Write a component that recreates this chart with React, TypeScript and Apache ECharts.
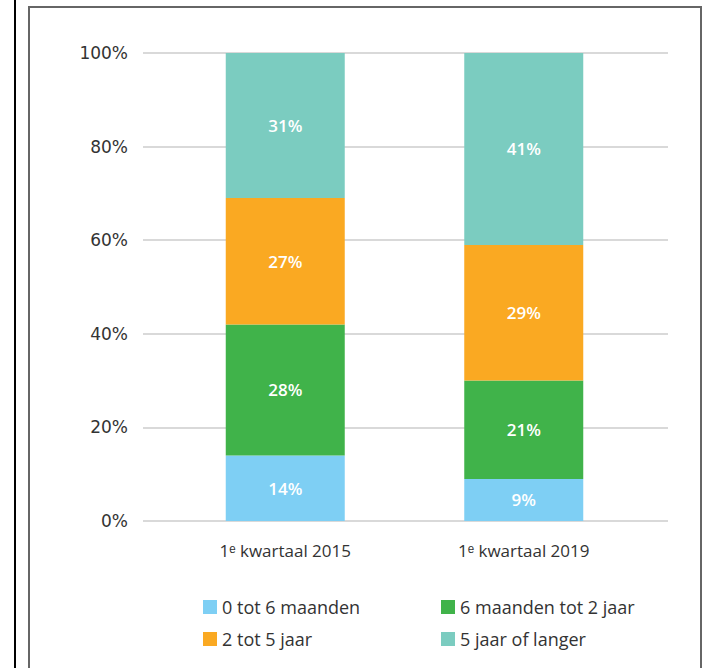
import React, { useEffect, useRef } from "react";
import * as echarts from "echarts";

const categories = ["1ᵉ kwartaal 2015", "1ᵉ kwartaal 2019"];
const seriesNames = ["0 tot 6 maanden", "6 maanden tot 2 jaar", "2 tot 5 jaar", "5 jaar of langer"];
const values0to6m = [14, 9];
const values6mto2y = [28, 21];
const values2to5y = [27, 29];
const values5yPlus = [31, 41];
const colors = ["#7ECFF4", "#40B34A", "#FAA922", "#7BCCC0"];

export default function App() {
  const ref = useRef<HTMLDivElement>(null);
  useEffect(() => {
    if (!ref.current) return;
    const chart = echarts.init(ref.current, null, { renderer: "svg" });
    const font = "'Open Sans', sans-serif";
    const data = [values0to6m, values6mto2y, values2to5y, values5yPlus];
    chart.setOption({
      animation: false,
      backgroundColor: "#ffffff",
      textStyle: { fontFamily: font },
      grid: [
        { left: 143, right: 47, top: 53, bottom: 147 },
        { left: 166, right: 72, top: 53, bottom: 147 },
      ],
      xAxis: [
        { type: "category", gridIndex: 0, data: ["x"], show: false },
        {
          type: "category",
          gridIndex: 1,
          data: categories,
          axisLine: { show: false },
          axisTick: { show: false },
          axisLabel: { margin: 21, color: "#333", fontSize: 17, fontFamily: font },
        },
      ],
      yAxis: [
        {
          type: "value",
          gridIndex: 0,
          min: 0,
          max: 100,
          interval: 20,
          axisLine: { show: false },
          axisTick: { show: false },
          axisLabel: { formatter: "{value}%", margin: 15, color: "#333", fontSize: 17, fontFamily: "'DejaVu Sans', sans-serif" },
          splitLine: { lineStyle: { color: "#cccccc", width: 1.5 } },
        },
        { type: "value", gridIndex: 1, min: 0, max: 100, show: false, splitLine: { show: false } },
      ],
      legend: [
        {
          data: [seriesNames[0], seriesNames[2]],
          orient: "vertical",
          left: 198,
          top: 593,
          itemWidth: 14,
          itemHeight: 14,
          itemGap: 14,
          icon: "rect",
          textStyle: { fontSize: 18, color: "#333", fontFamily: font },
        },
        {
          data: [seriesNames[1], seriesNames[3]],
          orient: "vertical",
          left: 436,
          top: 593,
          itemWidth: 14,
          itemHeight: 14,
          itemGap: 14,
          icon: "rect",
          textStyle: { fontSize: 18, color: "#333", fontFamily: font },
        },
      ],
      graphic: [
        { type: "line", shape: { x1: 15, y1: 0, x2: 15, y2: 668 }, style: { stroke: "#000", lineWidth: 2 } },
        { type: "rect", shape: { x: 29, y: 7, width: 672, height: 700 }, style: { fill: "none", stroke: "#666", lineWidth: 2 } },
      ],
      series: seriesNames.map((name, i) => ({
        name,
        type: "bar",
        stack: "total",
        xAxisIndex: 1,
        yAxisIndex: 1,
        barWidth: 119,
        itemStyle: { color: colors[i] },
        label: {
          show: true,
          position: "inside",
          formatter: "{c}%",
          color: "#fff",
          fontSize: 17,
          fontWeight: 600,
          fontFamily: font,
        },
        data: data[i],
      })),
    });
    return () => chart.dispose();
  }, []);
  return <div ref={ref} style={{ position: "fixed", left: 0, top: 0, width: 715, height: 668 }} />;
}
